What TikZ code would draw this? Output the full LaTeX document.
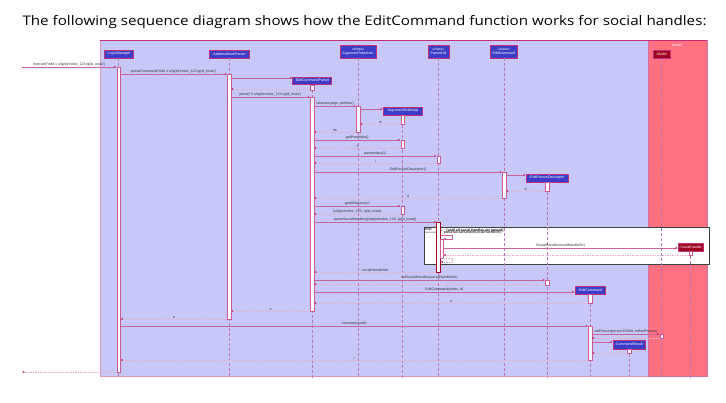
\documentclass[tikz,border=0pt]{standalone}
\usepackage{graphicx}
\usepackage{fontspec}
\setmainfont{Open Sans}
\setsansfont{Liberation Sans}
\usetikzlibrary{arrows.meta}

\definecolor{sfondologic}{HTML}{C8C8F8}
\definecolor{sfondomodel}{HTML}{FF7080}
\definecolor{blupart}{HTML}{3C3CC8}
\definecolor{rossopart}{HTML}{A00020}
\definecolor{bordo}{HTML}{C03078}
\definecolor{freccia}{HTML}{C8649A}
\definecolor{vita}{HTML}{B878B8}

\begin{document}
\begin{tikzpicture}[x=1pt, y=-1pt]
	% Stili del diagramma
	\tikzset{
		piccolo/.style={font=\sffamily\fontsize{3.6}{4.2}\selectfont},
		partecipante/.style={draw=bordo, fill=blupart, text=white, piccolo, inner sep=0.5pt, align=center, line width=0.5pt},
		partmodel/.style={partecipante, fill=rossopart},
		attivo/.style={draw=bordo!80, fill=white, line width=0.4pt, inner sep=0pt, minimum width=3.5pt, anchor=north},
		vitalinea/.style={densely dashed, draw=vita, line width=0.4pt},
		msg/.style={draw=freccia, line width=0.5pt, -{Stealth[length=2.6pt, width=2.2pt, color=bordo]}},
		ret/.style={msg, dash pattern=on 1.5pt off 1pt, draw=freccia!50},
		etich/.style={piccolo, above, inner sep=0.6pt, text=black!80},
	}

	% Margini dell'immagine
	\useasboundingbox (0,0) rectangle (726,402);

	% Titolo
	\node[font=\fontsize{13.2}{15}\selectfont] (titolo) at (364.5,22) {\scalebox{1.15}[1]{The following sequence diagram shows how the EditCommand function works for social handles:}};

	% Riquadri Logic e Model
	\draw[fill=sfondologic, draw=bordo!50, line width=0.5pt] (100,40) rectangle (648,376);
	\draw[fill=sfondomodel, draw=bordo!70, line width=0.5pt] (648,40) rectangle (707,376);
	\draw[draw=bordo, line width=0.6pt] (100,40) -- (707,40);
	\node[piccolo, text=white, anchor=north] (logic) at (374,40.5) {Logic};
	\node[piccolo, text=white, anchor=north] (model) at (677,40.5) {Model};

	% Riquadro del ciclo
	\draw[fill=white, draw=black!75, line width=0.7pt] (424,227) rectangle (709,264);
	\node[piccolo, anchor=north west, inner sep=0.7pt] (looptab) at (424,227) {loop};
	\draw[black!75, line width=0.4pt] (looptab.south west) -- ++(15,0) -- ++(3,-2) |- (looptab.north east);
	\node[piccolo, anchor=north west, inner sep=0.5pt, font=\sffamily\bfseries\fontsize{3.4}{4}\selectfont] (guardia) at (446,228) {[until all social handles are parsed]};

	% Partecipanti
	\node[partecipante, minimum width=29pt, minimum height=8pt] (lm) at (118.5,54) {:LogicManager};
	\node[partecipante, minimum width=40pt, minimum height=8pt] (abp) at (229,54) {:AddressBookParser};
	\node[partecipante, minimum width=36pt, minimum height=13pt] (at) at (358,51.5) {«class»\\ArgumentTokenizer};
	\node[partecipante, minimum width=21pt, minimum height=13pt] (pu) at (438.5,51.5) {«class»\\ParserUtil};
	\node[partecipante, minimum width=27pt, minimum height=13pt] (ecc) at (504,51.5) {«class»\\EditCommand};
	\node[partmodel, minimum width=17pt, minimum height=8pt] (mdl) at (661.5,54) {:Model};
	\node[partecipante, minimum width=39pt, minimum height=7.5pt] (ecp) at (312,80.5) {:EditCommandParser};
	\node[partecipante, minimum width=39pt, minimum height=8pt] (amm) at (402.5,111) {:ArgumentMultimap};
	\node[partecipante, minimum width=42pt, minimum height=8pt] (epd) at (547,178) {:EditPersonDescriptor};
	\node[partmodel, minimum width=25pt, minimum height=8pt] (sh) at (690.5,247) {:SocialHandle};
	\node[partecipante, minimum width=30pt, minimum height=8pt] (ec) at (590,290) {:EditCommand};
	\node[partecipante, minimum width=32pt, minimum height=9pt] (cr) at (629,344.5) {:CommandResult};

	% Linee di vita
	\draw[vitalinea] (lm) -- (lm |- 0,378);
	\draw[vitalinea] (abp) -- (abp |- 0,378);
	\draw[vitalinea] (ecp) -- (ecp |- 0,378);
	\draw[vitalinea] (at) -- (at |- 0,378);
	\draw[vitalinea] (pu) -- (pu |- 0,378);
	\draw[vitalinea] (ecc) -- (ecc |- 0,378);
	\draw[vitalinea] (mdl) -- (mdl |- 0,378);
	\draw[vitalinea] (amm) -- (amm |- 0,378);
	\draw[vitalinea] (epd) -- (epd |- 0,378);
	\draw[vitalinea] (sh) -- (sh |- 0,378);
	\draw[vitalinea] (ec) -- (ec |- 0,378);
	\draw[vitalinea] (cr) -- (cr |- 0,378);

	% Barre di attivazione
	\node[attivo, minimum height=305pt] (aLM) at (lm |- 0,67) {};
	\node[attivo, minimum height=245pt] (aABP) at (abp |- 0,74) {};
	\node[attivo, minimum height=5pt] (aECP0) at (ecp |- 0,84.5) {};
	\node[attivo, minimum height=214pt] (aECP) at (ecp |- 0,97) {};
	\node[attivo, minimum height=26pt] (aAT) at (at |- 0,106) {};
	\node[attivo, minimum height=9pt] (aAMM1) at (amm |- 0,115) {};
	\node[attivo, minimum height=8pt] (aAMM2) at (amm |- 0,140) {};
	\node[attivo, minimum height=7pt] (aPU1) at (pu |- 0,156) {};
	\node[attivo, minimum height=26pt] (aECC) at (ecc |- 0,172) {};
	\node[attivo, minimum height=9pt] (aEPD1) at (epd |- 0,182) {};
	\node[attivo, minimum height=8pt] (aAMM3) at (amm |- 0,206) {};
	\node[attivo, minimum height=50pt, draw=rossopart, line width=0.6pt] (aPU2) at (pu |- 0,222) {};
	\node[attivo, minimum height=19pt, xshift=3pt] (aPU3) at (pu |- 0,239) {};
	\node[attivo, minimum height=4pt] (aSH) at (sh |- 0,251) {};
	\node[attivo, minimum height=5pt] (aEPD2) at (epd |- 0,280) {};
	\node[attivo, minimum height=9pt] (aEC1) at (ec |- 0,294) {};
	\node[attivo, minimum height=34pt] (aEC2) at (ec |- 0,326) {};
	\node[attivo, minimum height=4pt] (aMDL) at (mdl |- 0,334) {};
	\node[attivo, minimum height=4pt] (aCR) at (cr |- 0,349) {};

	% Estremi esterni
	\coordinate (entrata) at (22,67);
	\coordinate (uscita) at (22,372);

	% Messaggi
	\draw[msg] (entrata) -- (aLM.west |- entrata) node[etich, midway] {execute("edit 1 s/tg/johndoe\_123 ig/jd\_insta")};
	\draw[msg] (aLM.east |- 0,74) -- (aABP.west |- 0,74) node[etich, midway] {parseCommand("edit 1 s/tg/johndoe\_123 ig/jd\_insta")};
	\draw[msg] (aABP.east |- 0,78) -- (ecp.west |- 0,78);
	\draw[ret] (aECP0.west |- 0,89) -- (aABP.east |- 0,89);
	\draw[msg] (aABP.east |- 0,97) -- (aECP.west |- 0,97) node[etich, midway] {parse("1 s/tg/johndoe\_123 ig/jd\_insta")};
	\draw[msg] (aECP.east |- 0,106) -- (aAT.west |- 0,106) node[etich, midway] {tokenize(args, prefixes)};
	\draw[msg] (aAT.east |- 0,109) -- (amm.west |- 0,109);
	\draw[ret] (aAMM1.west |- 0,124) -- (aAT.east |- 0,124) node[etich, midway] {m};
	\draw[ret] (aAT.west |- 0,132) -- (aECP.east |- 0,132) node[etich, midway, text=black] {m};
	\draw[msg] (aECP.east |- 0,140) -- (aAMM2.west |- 0,140) node[etich, midway] {getPreamble()};
	\draw[ret] (aAMM2.west |- 0,148) -- (aECP.east |- 0,148) node[etich, midway] {1};
	\draw[msg] (aECP.east |- 0,156) -- (aPU1.west |- 0,156) node[etich, midway] {parseIndex(1)};
	\draw[ret] (aPU1.west |- 0,163) -- (aECP.east |- 0,163) node[etich, midway] {i};
	\draw[msg] (aECP.east |- 0,172) -- (aECC.west |- 0,172) node[etich, midway] {EditPersonDescriptor()};
	\draw[msg] (aECC.east |- 0,175) -- (epd.west |- 0,175);
	\draw[ret] (aEPD1.west |- 0,191) -- (aECC.east |- 0,191) node[etich, midway] {d};
	\draw[ret] (aECC.west |- 0,198) -- (aECP.east |- 0,198) node[etich, midway] {d};
	\draw[msg] (aECP.east |- 0,206) -- (aAMM3.west |- 0,206) node[etich, midway] {getAllValues(s/)};
	\draw[ret] (aAMM3.west |- 0,214) -- (aECP.east |- 0,214) node[etich, midway] {[s/tg/johndoe\_123, ig/jd\_insta]};
	\draw[msg] (aECP.east |- 0,222) -- (aPU2.west |- 0,222) node[etich, midway] {parseSocialHandles([s/tg/johndoe\_123, ig/jd\_insta])};

	% Dentro il ciclo
	\draw[msg] (aPU2.east |- 0,235) -- ++(12,0) |- (aPU3.east |- 0,239);
	\node[piccolo, anchor=south west, inner sep=0.6pt] (autolbl) at (443,235) {parseSocialHandle(socialHandleStr)};
	\draw[msg] (aPU3.east |- 0,248) -- (sh.west |- 0,248) node[etich, midway] {SocialHandle(socialHandleStr)};
	\draw[ret] (aSH.west |- 0,255) -- (aPU3.east |- 0,255);
	\draw[ret] (aPU3.south east) -- ++(9,0) |- (aPU2.east |- 0,262);

	% Ritorno al parser e creazione del comando
	\draw[ret] (aPU2.west |- 0,272) -- (aECP.east |- 0,272) node[etich, midway] {socialHandleSet};
	\draw[msg] (aECP.east |- 0,280) -- (aEPD2.west |- 0,280) node[etich, midway] {setSocialHandles(socialHandleSet)};
	\draw[ret] (aEPD2.west |- 0,284) -- (aECP.east |- 0,284);
	\draw[msg] (aECP.east |- 0,292) -- (ec.west |- 0,292) node[etich, midway] {EditCommand(index, d)};
	\draw[ret] (aEC1.west |- 0,303) -- (aECP.east |- 0,303) node[etich, midway] {e};
	\draw[ret] (aECP.west |- 0,311) -- (aABP.east |- 0,311) node[etich, midway] {e};
	\draw[ret] (aABP.west |- 0,319) -- (aLM.east |- 0,319) node[etich, midway] {e};

	% Esecuzione del comando
	\draw[msg] (aLM.east |- 0,326) -- (aEC2.west |- 0,326) node[etich, midway] {execute(model)};
	\draw[msg] (aEC2.east |- 0,334) -- (aMDL.west |- 0,334) node[etich, midway] {setPerson(personToEdit, editedPerson)};
	\draw[ret] (aMDL.west |- 0,338) -- (aEC2.east |- 0,338);
	\draw[msg] (aEC2.east |- 0,342) -- (cr.west |- 0,342);
	\draw[ret] (aCR.west |- 0,353) -- (aEC2.east |- 0,353);
	\draw[ret] (aEC2.west |- 0,360) -- (aLM.east |- 0,360) node[etich, midway] {r};
	\draw[ret] (aLM.west |- uscita) -- (uscita);
\end{tikzpicture}
\end{document}
